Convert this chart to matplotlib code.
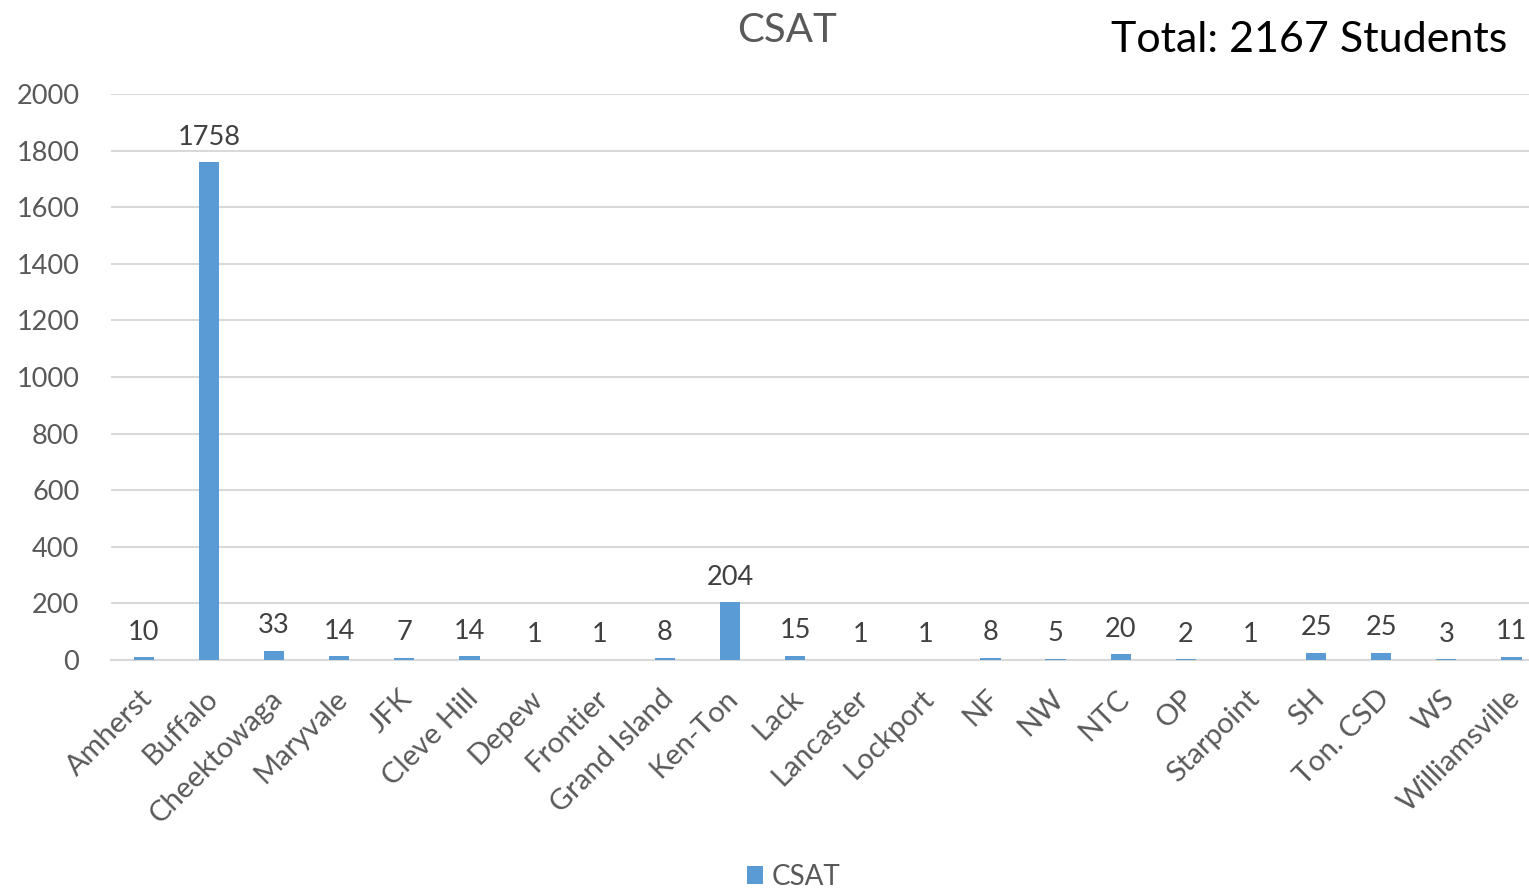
import matplotlib
matplotlib.use('Agg')
from matplotlib import pyplot as plt
from matplotlib.transforms import ScaledTranslation

# Data
districts = ['Amherst', 'Buffalo', 'Cheektowaga', 'Maryvale', 'JFK', 'Cleve Hill',
             'Depew', 'Frontier', 'Grand Island', 'Ken-Ton', 'Lack', 'Lancaster',
             'Lockport', 'NF', 'NW', 'NTC', 'OP', 'Starpoint', 'SH', 'Ton. CSD',
             'WS', 'Williamsville']
students = [10, 1758, 33, 14, 7, 14, 1, 1, 8, 204, 15, 1, 1, 8, 5, 20, 2, 1, 25, 25, 3, 11]
y_ticks = [0, 200, 400, 600, 800, 1000, 1200, 1400, 1600, 1800, 2000]

plt.rcParams['font.family'] = ['Lato', 'DejaVu Sans']

fig = plt.figure(figsize=(15.29, 8.91), dpi=100)
# axes run a bit past the right edge of the figure, as in the original
ax = fig.add_axes([0.0728, 0.2593, 0.937, 0.6352])

x = range(len(districts))
bars = ax.bar(x, students, width=0.31, color='#5B9BD5', label='CSAT', zorder=3)

for xi, v in zip(x, students):
    ax.annotate(str(v), (xi, v), xytext=(0, 9), textcoords='offset points',
                ha='center', va='bottom', fontsize=19.5, color='#404040')

ax.set_xlim(-0.5, len(districts) - 0.5)
ax.set_ylim(0, 2000)
ax.set_yticks(y_ticks)
ax.set_xticks(list(x))
ax.set_xticklabels(districts, rotation=45, ha='right', rotation_mode='anchor')
ax.tick_params(axis='both', length=0, labelsize=19.5, labelcolor='#595959')
ax.tick_params(axis='x', labelsize=21, pad=16)
ax.tick_params(axis='y', pad=23)

# nudge the slanted labels a little left and down
shift = ScaledTranslation(-5 / 100, -3 / 100, fig.dpi_scale_trans)
for lbl in ax.get_xticklabels():
    lbl.set_transform(lbl.get_transform() + shift)

ax.grid(axis='y', color='#D9D9D9', linewidth=1.5, zorder=0)
for s in ['top', 'right', 'left']:
    ax.spines[s].set_visible(False)
ax.spines['bottom'].set_color('#D9D9D9')
ax.spines['bottom'].set_linewidth(1.5)

fig.text(0.5145, 0.966, 'CSAT', ha='center', va='center', fontsize=29, color='#595959')
fig.text(0.986, 0.955, 'Total: 2167 Students', ha='right', va='center', fontsize=31, color='black')

fig.legend(handles=[bars], labels=['CSAT'], loc='lower center', bbox_to_anchor=(0.519, -0.027),
           frameon=False, fontsize=20, handlelength=0.6, handleheight=0.6, handletextpad=0.3,
           labelcolor='#595959')

plt.savefig('out.png', dpi=100)
